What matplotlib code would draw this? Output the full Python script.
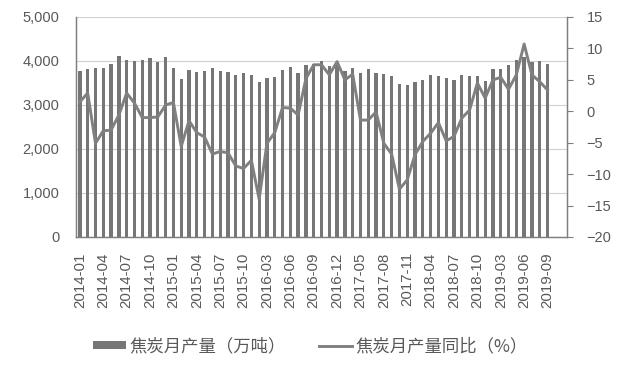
import matplotlib
matplotlib.use("Agg")
import matplotlib.pyplot as plt
from matplotlib.ticker import FuncFormatter

plt.rcParams['font.family'] = ['Noto Sans CJK SC', 'DejaVu Sans']

months = (
    [f"2014-{m:02d}" for m in range(1, 13)] +
    [f"2015-{m:02d}" for m in range(1, 13)] +
    [f"2016-{m:02d}" for m in range(3, 13)] +
    [f"2017-{m:02d}" for m in range(3, 13)] +
    [f"2018-{m:02d}" for m in range(3, 13)] +
    [f"2019-{m:02d}" for m in range(3, 10)]
)

production = [
    3780, 3820, 3840, 3840, 3930, 4110, 4020, 4000, 4020, 4070, 3980, 4090,
    3840, 3590, 3800, 3750, 3770, 3840, 3770, 3750, 3690, 3730, 3680, 3530,
    3610, 3640, 3800, 3860, 3730, 3910, 3930, 4000, 3890, 3980,
    3770, 3840, 3730, 3820, 3730, 3700, 3660, 3480, 3450, 3520,
    3570, 3680, 3660, 3610, 3570, 3680, 3660, 3660, 3550, 3820,
    3820, 3910, 4020, 4100, 3980, 4000, 3930,
]

yoy = [
    1.5, 2.9, -5.1, -3.1, -3.0, -0.6, 2.9, 1.3, -1.0, -1.0, -0.9, 1.0,
    1.4, -5.6, -1.5, -3.4, -4.1, -6.8, -6.4, -6.6, -8.7, -9.1, -7.8, -14.0,
    -5.1, -3.4, 0.6, 0.5, -0.6, 5.2, 7.4, 7.4, 5.8, 7.9,
    5.0, 5.9, -1.4, -1.4, -0.1, -5.1, -6.8, -12.4, -10.9, -6.9,
    -4.8, -3.5, -1.8, -4.7, -4.0, -1.1, 0.2, 4.5, 2.1, 5.0,
    5.4, 3.5, 5.8, 10.7, 5.8, 4.7, 3.4,
]

label_bar = "焦炭月产量（万吨）"
label_line = "焦炭月产量同比（%）"

text_color = "#595959"
bar_color = "#767676"
line_color = "#808080"

fig = plt.figure(figsize=(6.2, 3.68), dpi=100)
ax = fig.add_axes([76 / 620, 1 - 237 / 368, (567 - 76) / 620, (237 - 17) / 368])
ax2 = ax.twinx()

x = list(range(len(months)))
bars = ax.bar(x, production, width=0.42, color=bar_color, zorder=2, label=label_bar)
line, = ax2.plot(x, yoy, color=line_color, linewidth=2.1, zorder=3, label=label_line)

ax.set_xlim(-0.5, 62.5)
ax.set_ylim(0, 5000)
ax.set_yticks(range(0, 5001, 1000))
ax.yaxis.set_major_formatter(FuncFormatter(lambda v, p: f"{int(v):,}"))
ax.grid(axis='y', color="#d0d0d0", linewidth=0.8, zorder=0)
ax.set_axisbelow(True)

ax2.set_ylim(-20, 15)
ax2.set_yticks(range(-20, 16, 5))

tick_pos = x[::3]
ax.set_xticks(tick_pos)
ax.set_xticklabels([months[i] for i in tick_pos], rotation=90, fontsize=10.8,
                   color=text_color, family=['Liberation Sans', 'DejaVu Sans'])
ax.tick_params(axis='x', length=0, pad=11)
ax.tick_params(axis='y', length=0, pad=12, labelsize=10.5, labelcolor=text_color)
ax2.tick_params(axis='y', length=4, width=0.8, color="#7f7f7f", pad=10,
                labelsize=10.5, labelcolor=text_color)
for lab in ax.get_yticklabels() + ax2.get_yticklabels():
    lab.set_family(['Liberation Sans', 'DejaVu Sans'])

for a in (ax, ax2):
    a.spines['top'].set_visible(False)
    for s in ('left', 'right', 'bottom'):
        a.spines[s].set_color("#7f7f7f")
        a.spines[s].set_linewidth(0.9)

fig.legend(handles=[bars, line], labels=[label_bar, label_line],
           loc='center', bbox_to_anchor=(0.5, 1 - 346 / 368), ncol=2,
           frameon=False, fontsize=12.5, handlelength=1.9, handleheight=0.35,
           handletextpad=0.2, columnspacing=1.9, labelcolor=text_color)

fig.savefig("out.png", dpi=100)
